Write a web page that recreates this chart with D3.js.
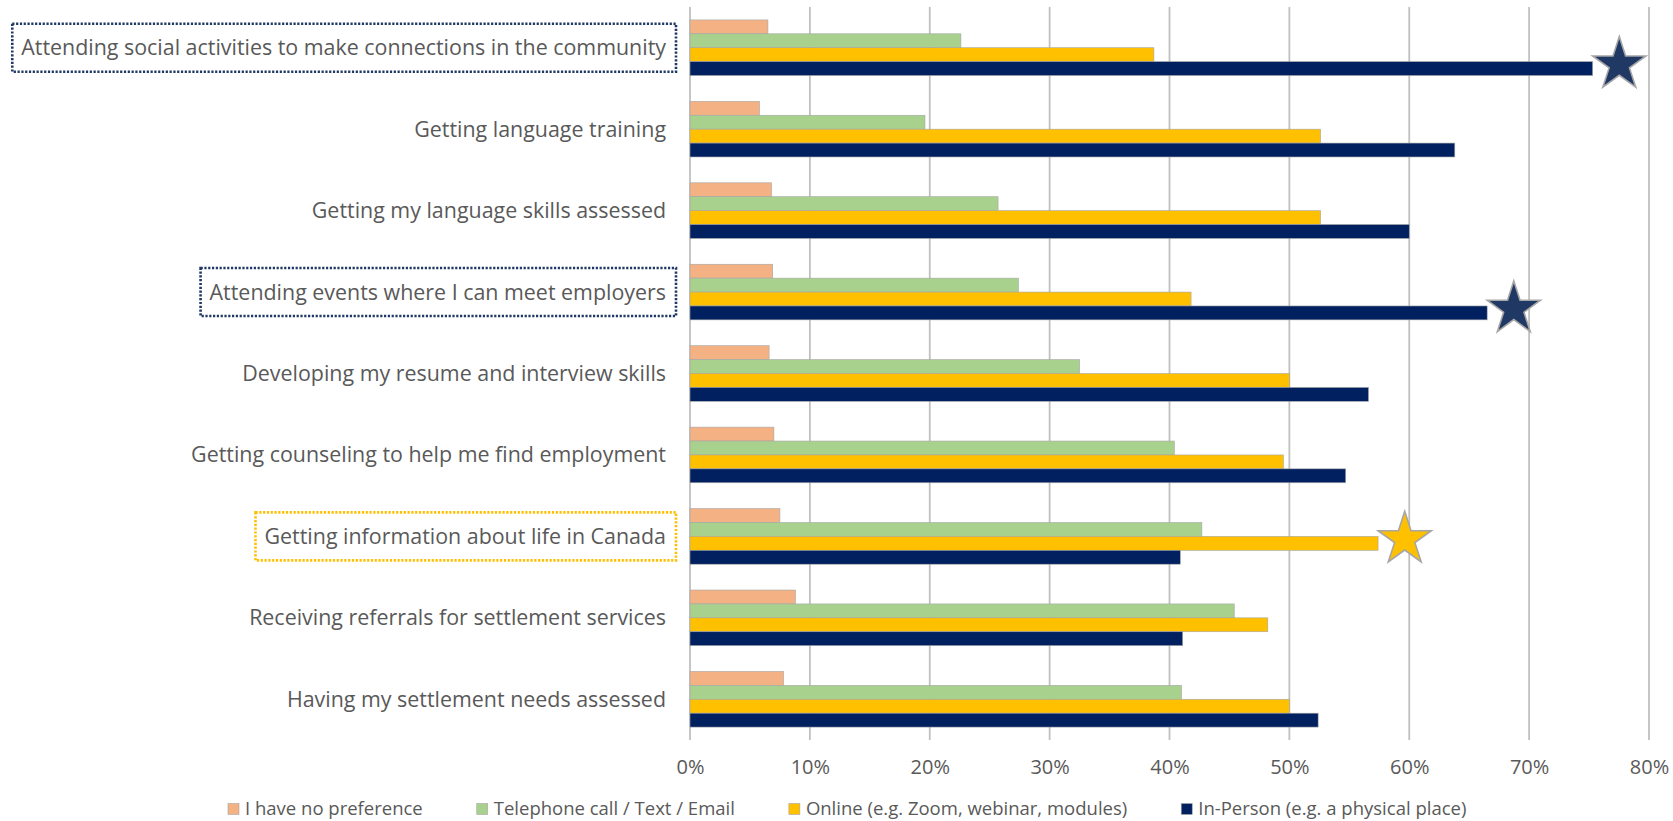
<!DOCTYPE html>
<html>
<head>
<meta charset="utf-8">
<script src="https://cdn.jsdelivr.net/npm/d3@7"></script>
<style>
  body { margin: 0; background: #fff; }
  text { font-family: "Open Sans", "Noto Sans", sans-serif; fill: #595959; }
</style>
</head>
<body>
<svg id="chart" width="1673" height="821"></svg>
<script>
// categories, top to bottom
const categories = [
  "Attending social activities to make connections in the community",
  "Getting language training",
  "Getting my language skills assessed",
  "Attending events where I can meet employers",
  "Developing my resume and interview skills",
  "Getting counseling to help me find employment",
  "Getting information about life in Canada",
  "Receiving referrals for settlement services",
  "Having my settlement needs assessed"
];

const seriesNames = [
  "I have no preference",
  "Telephone call / Text / Email",
  "Online (e.g. Zoom, webinar, modules)",
  "In-Person (e.g. a physical place)"
];

// percentages
const noPreference = [6.5, 5.8, 6.8, 6.9, 6.6, 7.0, 7.5, 8.8, 7.8];
const phoneTextEmail = [22.6, 19.6, 25.7, 27.4, 32.5, 40.4, 42.7, 45.4, 41.0];
const online = [38.7, 52.6, 52.6, 41.8, 50.0, 49.5, 57.4, 48.2, 50.0];
const inPerson = [75.3, 63.8, 60.0, 66.5, 56.6, 54.7, 40.9, 41.1, 52.4];

const colors = ["#F4B183", "#A9D18E", "#FFC000", "#002060"];
const tickValues = [0, 10, 20, 30, 40, 50, 60, 70, 80];

// highlighted rows: dotted box round the label, star after the bar
const highlights = [
  { cat: 0, series: 3, box: "#1F3864", star: "#203864" },
  { cat: 3, series: 3, box: "#1F3864", star: "#203864" },
  { cat: 6, series: 2, box: "#FFC000", star: "#FFC000" }
];

const allSeries = [noPreference, phoneTextEmail, online, inPerson];

const svg = d3.select("#chart");

const x = d3.scaleLinear().domain([0, 80]).range([690, 1649]);
const y = d3.scaleBand().domain(d3.range(categories.length))
    .range([7, 740]).paddingInner(0.317).paddingOuter(0.1585);
const ySub = d3.scaleBand().domain(d3.range(seriesNames.length))
    .range([0, y.bandwidth()]);

// gridlines
svg.append("g")
    .selectAll("line")
    .data(tickValues)
    .join("line")
    .attr("x1", d => x(d)).attr("x2", d => x(d))
    .attr("y1", 7).attr("y2", 740)
    .attr("stroke", "#c0c0c0")
    .attr("stroke-width", 1.8);

// tick labels
const xAxis = d3.axisBottom(x).tickValues(tickValues)
    .tickFormat(d => d + "%").tickSize(0).tickPadding(0);
const gx = svg.append("g").attr("transform", "translate(0,760)").call(xAxis);
gx.select(".domain").remove();
gx.selectAll("text")
    .attr("font-size", 20)
    .attr("fill", "#595959")
    .style("font-family", '"Open Sans", "Noto Sans", sans-serif');

// bars
const rows = svg.append("g")
    .selectAll("g")
    .data(categories)
    .join("g")
    .attr("transform", (d, i) => `translate(0,${y(i)})`);

rows.selectAll("rect")
    .data((d, i) => allSeries.map((s, k) => ({ k, v: s[i] })))
    .join("rect")
    .attr("x", x(0))
    .attr("y", d => ySub(d.k))
    .attr("width", d => x(d.v) - x(0))
    .attr("height", ySub.bandwidth())
    .attr("fill", d => colors[d.k])
    .attr("stroke", "#a6a6a6")
    .attr("stroke-width", 0.6);

// category labels, sized to fit the longest one
const labelG = svg.append("g");
const labels = labelG.selectAll("text")
    .data(categories)
    .join("text")
    .attr("x", 666)
    .attr("y", (d, i) => y(i) + y.bandwidth() / 2)
    .attr("dy", "0.35em")
    .attr("text-anchor", "end")
    .attr("font-size", 20)
    .text(d => d);
const longest = labels.nodes()[0].getComputedTextLength();
const labelSize = 20 * 645 / longest;
labels.attr("font-size", labelSize);

// dotted boxes round highlighted labels
svg.append("g")
    .selectAll("rect")
    .data(highlights)
    .join("rect")
    .attr("x", d => 666 - labels.nodes()[d.cat].getComputedTextLength() - 9)
    .attr("y", d => y(d.cat) + y.bandwidth() / 2 - 24)
    .attr("width", d => labels.nodes()[d.cat].getComputedTextLength() + 19)
    .attr("height", 48)
    .attr("fill", "none")
    .attr("stroke", d => d.box)
    .attr("stroke-width", 2.6)
    .attr("stroke-dasharray", "2.2 1.6");

// stars at the end of highlighted bars
const starR = 28;
const star = d3.symbol().type(d3.symbolStar).size(starR * starR / 0.8908130915292852);
svg.append("g")
    .selectAll("path")
    .data(highlights)
    .join("path")
    .attr("d", star)
    .attr("transform", d => {
      const cx = x(allSeries[d.series][d.cat]) + starR * Math.sin(Math.PI * 2 / 5);
      const cy = y(d.cat) + ySub(d.series) + ySub.bandwidth() / 2 - 4;
      return `translate(${cx},${cy})`;
    })
    .attr("fill", d => d.star)
    .attr("stroke", "#a6a6a6")
    .attr("stroke-width", 1.6);

// legend: entries laid out one after another with an even gap
const legendStart = 228, legendGap = 54;
const legend = svg.append("g")
    .selectAll("g")
    .data(seriesNames)
    .join("g");
legend.append("rect")
    .attr("x", 0).attr("y", -5.5)
    .attr("width", 11).attr("height", 11)
    .attr("fill", (d, i) => colors[i])
    .attr("stroke", "#a6a6a6")
    .attr("stroke-width", 0.6);
legend.append("text")
    .attr("x", 17)
    .attr("dy", "0.35em")
    .attr("font-size", 18.5)
    .text(d => d);
let lx = legendStart;
legend.each(function () {
  const g = d3.select(this);
  g.attr("transform", `translate(${lx},809)`);
  lx += 17 + g.select("text").node().getComputedTextLength() + legendGap;
});
</script>
</body>
</html>
